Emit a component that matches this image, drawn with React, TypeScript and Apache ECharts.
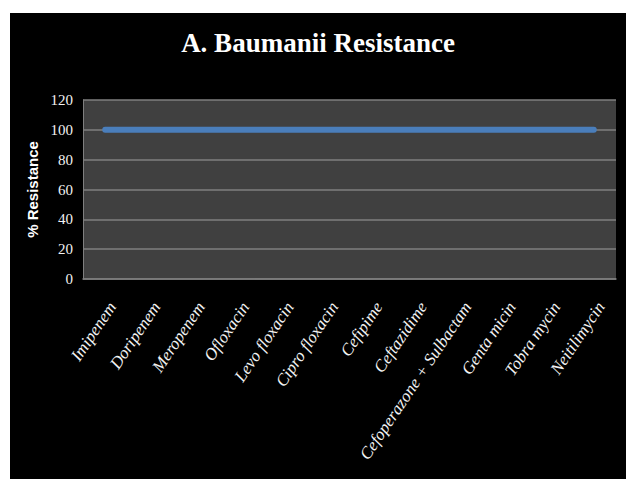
import React, { useEffect, useRef } from "react";
import * as echarts from "echarts";

// Antibiotics tested, in display order
const antibiotics = [
  "Imipenem",
  "Doripenem",
  "Meropenem",
  "Ofloxacin",
  "Levo floxacin",
  "Cipro floxacin",
  "Cefipime",
  "Ceftazidime",
  "Cefoperazone + Sulbactam",
  "Genta micin",
  "Tobra mycin",
  "Neitilimycin",
];

// Percentage of A. baumannii isolates resistant to each antibiotic
const resistancePct = [100, 100, 100, 100, 100, 100, 100, 100, 100, 100, 100, 100];

// Value axis range
const yMin = 0;
const yMax = 120;
const yStep = 20;

const SERIF = "'Liberation Serif', 'Times New Roman', serif";
const SANS = "'Liberation Sans', Arial, sans-serif";

export default function App() {
  const ref = useRef<HTMLDivElement>(null);

  useEffect(() => {
    if (!ref.current) return;
    const chart = echarts.init(ref.current, undefined, { renderer: "svg" });
    chart.setOption({
      animation: false,
      backgroundColor: "#000000",
      title: {
        text: "A. Baumanii Resistance",
        left: "center",
        top: 11,
        textStyle: {
          color: "#ffffff",
          fontFamily: SERIF,
          fontWeight: "bold",
          fontSize: 27,
        },
      },
      grid: {
        left: 73,
        right: 10,
        top: 87,
        bottom: 200,
        show: true,
        backgroundColor: "#404040",
        borderWidth: 0,
      },
      xAxis: {
        type: "category",
        data: antibiotics,
        boundaryGap: true,
        axisLine: { show: true, lineStyle: { color: "#7f7f7f", width: 1.5 } },
        axisTick: { show: false },
        splitLine: { show: false },
        axisLabel: {
          interval: 0,
          rotate: 56,
          margin: 20,
          align: "right",
          verticalAlign: "top",
          color: "#f2f2f2",
          fontFamily: SERIF,
          fontStyle: "italic",
          fontSize: 17,
        },
      },
      yAxis: {
        type: "value",
        min: yMin,
        max: yMax,
        interval: yStep,
        name: "% Resistance",
        nameLocation: "middle",
        nameGap: 39,
        nameTextStyle: {
          color: "#ffffff",
          fontFamily: SANS,
          fontWeight: "bold",
          fontSize: 15,
        },
        axisLine: { show: true, lineStyle: { color: "#7f7f7f", width: 1 } },
        axisTick: { show: false },
        splitLine: { show: true, lineStyle: { color: "#7f7f7f", width: 1.5 } },
        axisLabel: {
          margin: 10,
          color: "#f2f2f2",
          fontFamily: SERIF,
          fontSize: 15,
        },
      },
      series: [
        {
          type: "line",
          data: resistancePct,
          symbol: "none",
          lineStyle: { color: "#4a7ebb", width: 6, cap: "round" },
          itemStyle: { color: "#4a7ebb" },
        },
      ],
    });
    return () => chart.dispose();
  }, []);

  return (
    <div
      style={{
        position: "absolute",
        left: 0,
        top: 0,
        width: 626,
        height: 479,
        background: "#ffffff",
        overflow: "hidden",
      }}
    >
      <div
        ref={ref}
        style={{ position: "absolute", left: 10, top: 13, width: 616, height: 466 }}
      />
    </div>
  );
}
